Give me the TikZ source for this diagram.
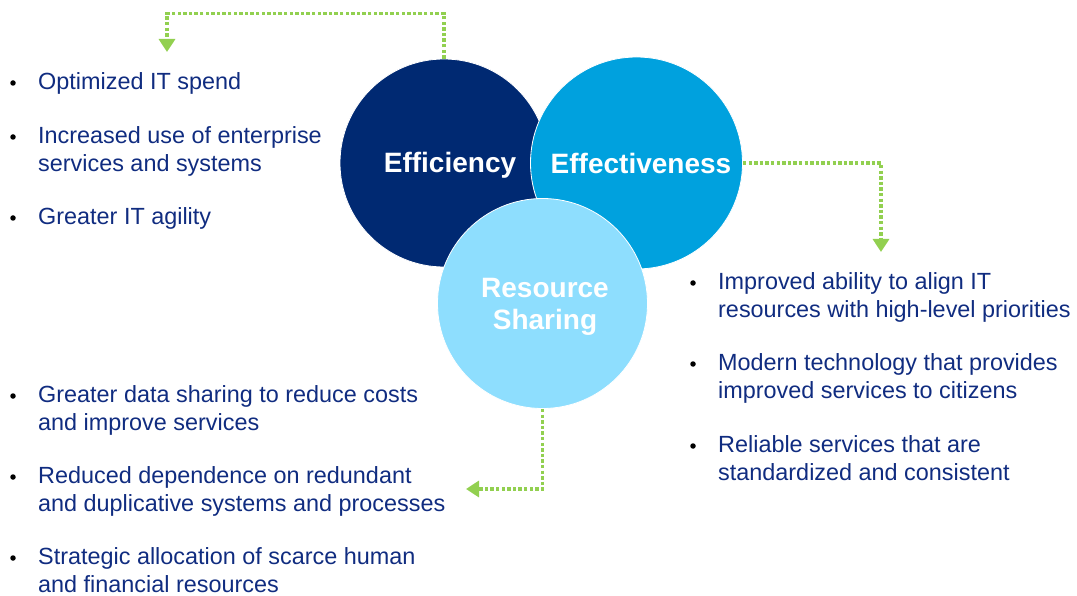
\documentclass[tikz,border=0pt]{standalone}
\usepackage{fontspec}
\setmainfont{Liberation Sans}
\usetikzlibrary{arrows.meta,positioning}
\definecolor{navy}{RGB}{0,41,114}
\definecolor{sky}{RGB}{0,161,222}
\definecolor{ice}{RGB}{142,222,254}
\definecolor{ink}{RGB}{16,44,128}
\definecolor{leaf}{RGB}{146,208,80}
\begin{document}
\begin{tikzpicture}[
  x=1bp, y=-1bp,
  goal/.style={circle, draw=white, line width=0.8bp, inner sep=0pt},
  lbl/.style={text=white, align=center, inner sep=0pt,
    font=\fontsize{28bp}{32bp}\selectfont\bfseries},
  item/.style={anchor=north west, inner sep=0pt, align=left, text=ink,
    font=\fontsize{23.4bp}{27.5bp}\selectfont},
  dot/.style={circle, fill=black, minimum size=5.5bp, inner sep=0pt},
  flow/.style={draw=leaf, line width=3.4bp, dash pattern=on 3.4bp off 2.2bp,
    -{Triangle[width=16bp,length=13bp]}}
]
\useasboundingbox (0,0) rectangle (1077,596);

% the three goals, later ones lying over earlier ones
\node[goal, fill=navy, minimum size=208bp,
  label={[lbl, xshift=6bp, yshift=-2.5bp]center:Efficiency}] (effi) at (444,163) {};
\node[goal, fill=sky, minimum size=212bp,
  label={[lbl, xshift=4.5bp]center:Effectiveness}] (effe) at (636.5,163) {};
\node[goal, fill=ice, minimum size=210bp,
  label={[lbl, xshift=2.5bp, yshift=-3bp]center:Resource\\Sharing}] (share) at (542.5,303.5) {};

% benefits of each goal
\node[item] (a1) at (38,72.5) {Optimized IT spend};
\node[item] (a2) at (38,126.5) {Increased use of enterprise\\services and systems};
\node[item] (a3) at (38,207.5) {Greater IT agility};

\node[item] (b1) at (718,272.5) {Improved ability to align IT\\resources with high-level priorities};
\node[item] (b2) at (718,353.5) {Modern technology that provides\\improved services to citizens};
\node[item] (b3) at (718,435.5) {Reliable services that are\\standardized and consistent};

\node[item] (c1) at (38,385.5) {Greater data sharing to reduce costs\\and improve services};
\node[item] (c2) at (38,466.5) {Reduced dependence on redundant\\and duplicative systems and processes};
\node[item] (c3) at (38,547.5) {Strategic allocation of scarce human\\and financial resources};

\foreach \n in {a1,a2,a3,b1,b2,b3,c1,c2,c3}
  \node[dot] at ([shift={(-25,10.5)}]\n.north west) {};

% dotted leaders from each goal to its list
\coordinate (ta) at (167,52);
\coordinate (tb) at (881,252);
\coordinate (tc) at (466,489);
\draw[flow] (effi.north) -- ++(0,-45) -| (ta);
\draw[flow] (effe.east) -| (tb);
\draw[flow] (share.south) |- (tc);
\end{tikzpicture}
\end{document}
